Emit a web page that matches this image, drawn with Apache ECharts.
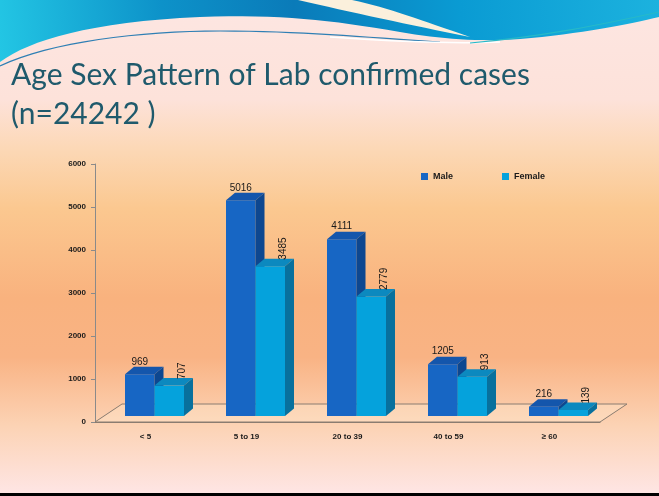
<!DOCTYPE html>
<html>
<head>
<meta charset="utf-8">
<script src="https://cdn.jsdelivr.net/npm/echarts@6/dist/echarts.min.js"></script>
<style>
  html, body { margin: 0; padding: 0; }
  #chart { width: 659px; height: 496px; }
</style>
</head>
<body>
<div id="chart"></div>
<script>
// data
var ageGroups = ['< 5', '5 to 19', '20 to 39', '40 to 59', '\u2265 60'];
var maleCases = [969, 5016, 4111, 1205, 216];
var femaleCases = [707, 3485, 2779, 913, 139];
var seriesNames = ['Male', 'Female'];
var titleText = 'Age Sex Pattern of Lab confirmed cases\n(n=24242 )';

// 3D look
var BAR_W = 29.5;       // width of one bar face
var SHIFT_X = 9;        // bars sit a little behind the front axis
var SHIFT_Y = -6;
var DEPTH_X = 9;        // bar depth
var DEPTH_Y = -7.5;
var FLOOR_X = 27;       // floor depth
var FLOOR_Y = -18;

var maleColors = { front: '#1766c4', top: '#1456ac', side: '#0d4790' };
var femaleColors = { front: '#05a2dc', top: '#0c89bf', side: '#08709d' };

function barRenderer(isFemale, colors) {
    return function (params, api) {
        var c = api.coord([api.value(0), 0]);
        var t = api.coord([api.value(0), api.value(1)]);
        var x0 = c[0] + SHIFT_X + (isFemale ? 0 : -BAR_W);
        var x1 = x0 + BAR_W;
        var yb = c[1] + SHIFT_Y;
        var yt = t[1] + SHIFT_Y;
        var children = [
            { type: 'rect', shape: { x: x0, y: yt, width: BAR_W, height: yb - yt },
              style: { fill: colors.front } },
            { type: 'polygon', shape: { points: [[x0, yt], [x1, yt], [x1 + DEPTH_X, yt + DEPTH_Y], [x0 + DEPTH_X, yt + DEPTH_Y]] },
              style: { fill: colors.top } },
            { type: 'polygon', shape: { points: [[x1, yt], [x1 + DEPTH_X, yt + DEPTH_Y], [x1 + DEPTH_X, yb + DEPTH_Y], [x1, yb]] },
              style: { fill: colors.side } }
        ];
        var label = String(api.value(1));
        if (isFemale) {
            children.push({ type: 'text', x: x1 - 2, y: yt + DEPTH_Y + 1, rotation: Math.PI / 2,
                style: { text: label, fill: '#1a1a1a', font: '10px "Liberation Sans"', align: 'left', verticalAlign: 'middle' } });
        } else {
            children.push({ type: 'text', x: x0 + BAR_W / 2, y: yt + DEPTH_Y,
                style: { text: label, fill: '#1a1a1a', font: '10px "Liberation Sans"', align: 'center', verticalAlign: 'bottom' } });
        }
        return { type: 'group', children: children };
    };
}

// sample a cubic bezier into points (for the slide header decoration)
function bez(p0, p1, p2, p3) {
    var pts = [];
    for (var k = 0; k <= 16; k++) {
        var t = k / 16, u = 1 - t;
        pts.push([
            u * u * u * p0[0] + 3 * u * u * t * p1[0] + 3 * u * t * t * p2[0] + t * t * t * p3[0],
            u * u * u * p0[1] + 3 * u * u * t * p1[1] + 3 * u * t * t * p2[1] + t * t * t * p3[1]
        ]);
    }
    return pts;
}

var waveEdge = [].concat(
    bez([0, 62], [30, 40], [90, 22], [200, 17]),
    bez([200, 17], [280, 14], [330, 20], [400, 32]),
    bez([400, 32], [440, 39], [480, 42], [520, 39]),
    bez([520, 39], [580, 34], [630, 24], [659, 17])
);
var wavePoints = waveEdge.concat([[659, 0], [0, 0]]);
var wedgePoints = [].concat(
    bez([298, 0], [350, 12], [410, 25], [470, 37]),
    bez([470, 37], [420, 20], [390, 8], [352, 0])
);
var thinLine = [].concat(
    bez([0, 66], [50, 42], [140, 31], [220, 31]),
    bez([220, 31], [300, 31], [360, 37], [440, 42])
);

var chart = echarts.init(document.getElementById('chart'));

var option = {
    backgroundColor: {
        type: 'linear', x: 0, y: 0, x2: 0, y2: 1,
        colorStops: [
            { offset: 0, color: '#fde6e2' },
            { offset: 0.2, color: '#fde2da' },
            { offset: 0.3, color: '#fcd8b6' },
            { offset: 0.42, color: '#fbc890' },
            { offset: 0.6, color: '#f9b27e' },
            { offset: 0.72, color: '#f9b384' },
            { offset: 0.86, color: '#fcd3b5' },
            { offset: 1, color: '#fee6e6' }
        ]
    },
    animation: false,
    title: {
        text: titleText,
        left: 6,
        top: 51,
        textStyle: { fontFamily: 'Lato', fontSize: 30, fontWeight: 'normal', color: '#1f5a6c', lineHeight: 39 }
    },
    legend: {
        data: seriesNames,
        left: 416,
        top: 167,
        icon: 'rect',
        itemWidth: 7,
        itemHeight: 7,
        itemGap: 49,
        textStyle: { fontFamily: 'Liberation Sans', fontSize: 9, fontWeight: 'bold', color: '#1a1a1a' }
    },
    grid: { left: 95, top: 164, width: 505, height: 258 },
    xAxis: {
        type: 'category',
        data: ageGroups,
        axisLine: { lineStyle: { color: '#8a7c70' } },
        axisTick: { length: 4, lineStyle: { color: '#8a7c70' } },
        axisLabel: { margin: 11, fontFamily: 'Liberation Sans', fontSize: 8, fontWeight: 'bold', color: '#1a1a1a' }
    },
    yAxis: {
        type: 'value',
        min: 0,
        max: 6000,
        interval: 1000,
        splitLine: { show: false },
        axisLine: { show: true, lineStyle: { color: '#8a8a8a' } },
        axisTick: { show: true, length: 4, lineStyle: { color: '#8a8a8a' } },
        axisLabel: { margin: 9, fontFamily: 'Liberation Sans', fontSize: 8, fontWeight: 'bold', color: '#1a1a1a',
            formatter: function (v) { return String(v); } }
    },
    graphic: [
        // slide header wave
        { type: 'polygon', z: 0, shape: { points: wavePoints },
          style: { fill: { type: 'linear', x: 0, y: 1, x2: 1, y2: 0, colorStops: [
              { offset: 0, color: '#23c6e4' }, { offset: 0.25, color: '#0d92c9' },
              { offset: 0.45, color: '#0a7bb9' }, { offset: 0.7, color: '#0a9bd3' }, { offset: 1, color: '#1cb2de' }] } } },
        { type: 'polygon', z: 1, shape: { points: wedgePoints }, style: { fill: '#fbf0dc' } },
        { type: 'polyline', z: 1, shape: { points: thinLine }, style: { stroke: '#2f7fb4', lineWidth: 1.2 } },
        { type: 'bezierCurve', z: 1,
          shape: { x1: 330, y1: 37, cpx1: 400, cpy1: 42, cpx2: 450, cpy2: 44, x2: 500, y2: 42 },
          style: { fill: null, stroke: '#ffffff', lineWidth: 1.5 } },
        { type: 'bezierCurve', z: 1,
          shape: { x1: 470, y1: 43, cpx1: 540, cpy1: 37, cpx2: 600, cpy2: 25, x2: 659, y2: 12 },
          style: { fill: null, stroke: '#27b9c8', lineWidth: 1.2 } },
        // bottom border
        { type: 'rect', z: 1, left: 0, bottom: 0, shape: { width: 659, height: 3 }, style: { fill: '#000' } }
    ],
    series: [
        {
            name: 'floor',
            type: 'custom',
            silent: true,
            z: 1,
            data: [[0, 0]],
            renderItem: function (params, api) {
                var cs = params.coordSys;
                var yb = cs.y + cs.height;
                return {
                    type: 'polygon',
                    shape: { points: [[cs.x, yb], [cs.x + cs.width, yb], [cs.x + cs.width + FLOOR_X, yb + FLOOR_Y], [cs.x + FLOOR_X, yb + FLOOR_Y]] },
                    style: { fill: 'rgba(255,236,210,0.35)', stroke: '#8a7c70', lineWidth: 1 }
                };
            }
        },
        {
            name: 'Male',
            type: 'custom',
            z: 3,
            itemStyle: { color: maleColors.front },
            data: ageGroups.map(function (g, i) { return [i, maleCases[i]]; }),
            renderItem: barRenderer(false, maleColors)
        },
        {
            name: 'Female',
            type: 'custom',
            z: 4,
            itemStyle: { color: femaleColors.front },
            data: ageGroups.map(function (g, i) { return [i, femaleCases[i]]; }),
            renderItem: barRenderer(true, femaleColors)
        }
    ]
};

chart.setOption(option);
</script>
</body>
</html>
